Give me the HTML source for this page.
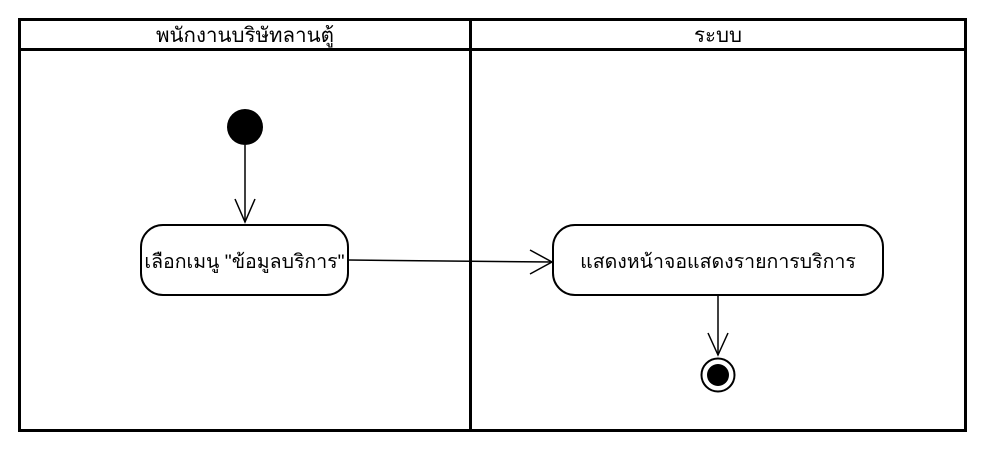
<!DOCTYPE html>
<html><head><meta charset="utf-8"><style>
html,body{margin:0;padding:0;background:#fff;width:996px;height:449px;overflow:hidden}
svg{display:block}
text{font-family:"Liberation Sans","DejaVu Sans","Noto Sans CJK SC",sans-serif;font-size:19.5px;fill:#000}
</style></head><body>
<svg width="996" height="449" viewBox="0 0 996 449">
<rect x="19.5" y="19.5" width="946" height="411" fill="#fff" stroke="#000" stroke-width="3"/>
<line x1="19" y1="49.5" x2="966" y2="49.5" stroke="#000" stroke-width="3"/>
<line x1="470.5" y1="19" x2="470.5" y2="431" stroke="#000" stroke-width="3"/>
<text x="245" y="42" text-anchor="middle" style="font-size:20.5px">พนักงานบริษัทลานตู้</text>
<text x="718" y="42" text-anchor="middle" style="font-size:20.5px">ระบบ</text>
<circle cx="245" cy="127" r="18" fill="#000"/>
<line x1="245" y1="145" x2="245" y2="222" stroke="#000" stroke-width="1.5"/>
<polyline points="235,199 245,222 255,199" fill="none" stroke="#000" stroke-width="1.5"/>
<rect x="141" y="225" width="207" height="70" rx="22" fill="#fff" stroke="#000" stroke-width="2"/>
<text x="244.5" y="268" text-anchor="middle">เลือกเมนู "ข้อมูลบริการ"</text>
<line x1="348" y1="260" x2="552" y2="262" stroke="#000" stroke-width="1.5"/>
<polyline points="530,250 552,262 530,274" fill="none" stroke="#000" stroke-width="1.5"/>
<rect x="553" y="225" width="330" height="70" rx="22" fill="#fff" stroke="#000" stroke-width="2"/>
<text x="718" y="268" text-anchor="middle">แสดงหน้าจอแสดงรายการบริการ</text>
<line x1="718" y1="295" x2="718" y2="355" stroke="#000" stroke-width="1.5"/>
<polyline points="708,333 718,355 728,333" fill="none" stroke="#000" stroke-width="1.5"/>
<circle cx="718" cy="375" r="16.5" fill="#fff" stroke="#000" stroke-width="2"/>
<circle cx="718" cy="375" r="11" fill="#000"/>
</svg>
</body></html>
